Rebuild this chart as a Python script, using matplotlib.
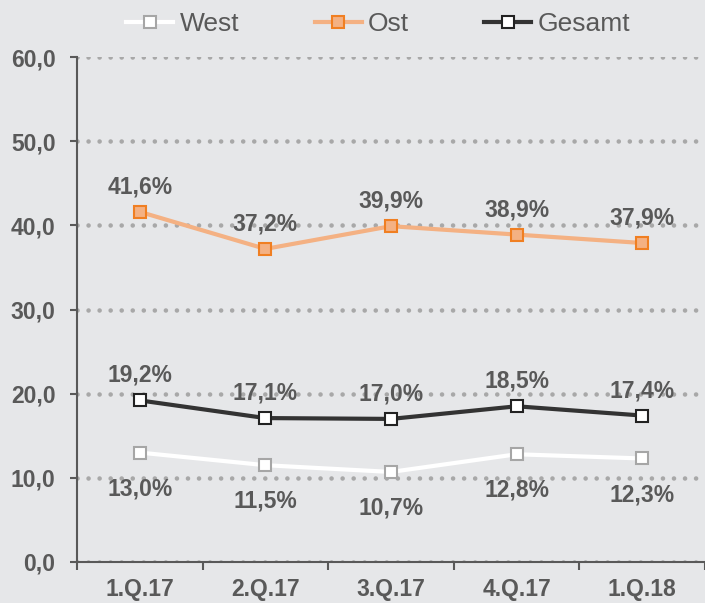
import matplotlib.pyplot as plt

quarters = ['1.Q.17', '2.Q.17', '3.Q.17', '4.Q.17', '1.Q.18']
west = [13.0, 11.5, 10.7, 12.8, 12.3]
ost = [41.6, 37.2, 39.9, 38.9, 37.9]
gesamt = [19.2, 17.1, 17.0, 18.5, 17.4]

bg = '#e6e7e9'
txt = '#595959'
plt.rcParams['font.family'] = ['Liberation Sans', 'DejaVu Sans']

fig = plt.figure(figsize=(7.05, 6.03), dpi=100, facecolor=bg)
ax = fig.add_axes([77 / 705, 41 / 603, 628 / 705, 505 / 603], facecolor=bg)

x = range(len(quarters))
ax.plot(x, west, color='white', lw=3, marker='s', ms=9, mfc='white', mec='#a6a6a6', mew=1.5, label='West', zorder=3)
ax.plot(x, ost, color='#f4b183', lw=3, marker='s', ms=9, mfc='#f4b183', mec='#f07f22', mew=1.5, label='Ost', zorder=3)
ax.plot(x, gesamt, color='#333333', lw=3, marker='s', ms=9, mfc='white', mec='#222222', mew=1.5, label='Gesamt', zorder=3)

def fmt(v):
    return f'{v:.1f}%'.replace('.', ',')

# Beschriftungen: Ost und Gesamt oben, West unten
for i in x:
    ax.annotate(fmt(ost[i]), (i, ost[i]), xytext=(0, 18), textcoords='offset points',
                ha='center', va='center', fontsize=16.5, fontweight='bold', color=txt)
    ax.annotate(fmt(gesamt[i]), (i, gesamt[i]), xytext=(0, 18), textcoords='offset points',
                ha='center', va='center', fontsize=16.5, fontweight='bold', color=txt)
    ax.annotate(fmt(west[i]), (i, west[i]), xytext=(0, -26), textcoords='offset points',
                ha='center', va='center', fontsize=16.5, fontweight='bold', color=txt)

ax.set_xlim(-0.5, len(quarters) - 0.5)
ax.set_ylim(0, 60)
ax.set_yticks(range(0, 61, 10))
ax.set_yticklabels([f'{v},0' for v in range(0, 61, 10)], fontsize=16.5, fontweight='bold', color=txt)
ax.set_xticks(list(x))
ax.set_xticklabels(quarters, fontsize=16.5, fontweight='bold', color=txt)
ax.set_xticks([i + 0.5 for i in range(-1, len(quarters))], minor=True)
ax.tick_params(axis='x', which='major', length=0, pad=11.5)
ax.tick_params(axis='x', which='minor', length=6, width=1.5, color=txt, direction='out')
ax.tick_params(axis='y', length=5, width=1.5, color=txt, pad=10.5)

for s in ['top', 'right']:
    ax.spines[s].set_visible(False)
for s in ['left', 'bottom']:
    ax.spines[s].set_color(txt)
    ax.spines[s].set_linewidth(1.5)

ax.grid(axis='y', color='#a8a8a8', linestyle=(0, (0.01, 2.4)), linewidth=3.3, dash_capstyle='round')
ax.set_axisbelow(True)

leg = ax.legend(loc='center', bbox_to_anchor=(0.48, 1.065), ncol=3, frameon=False,
                fontsize=19, handlelength=1.78, columnspacing=2.85, handletextpad=0.25)
for t in leg.get_texts():
    t.set_color(txt)

fig.savefig('out.png', dpi=100, facecolor=bg)
